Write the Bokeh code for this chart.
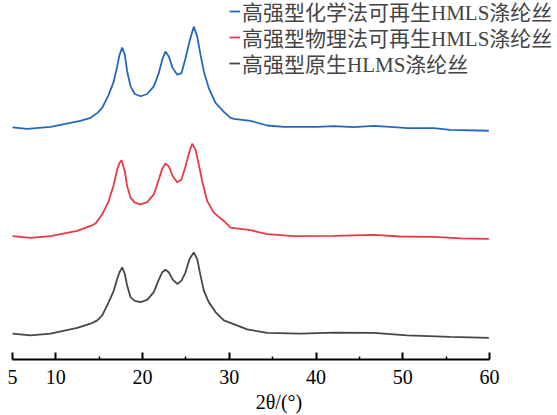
from bokeh.plotting import figure
from bokeh.models import Range1d, FixedTicker, Legend, LegendItem
from bokeh.embed import file_html
from bokeh.resources import INLINE

# ---- data (2theta in degrees, intensity in a.u. with vertical offsets) ----
chem_x = [5.0, 6.7, 9.4, 12.8, 14.0, 14.8, 15.34, 16.10, 16.68, 17.07, 17.34, 17.65, 17.95, 18.22,
          18.61, 19.10, 19.76, 20.53, 21.29, 21.87, 22.26, 22.64, 23.02, 23.48, 23.99, 24.49,
          24.95, 25.41, 25.90, 26.30, 26.68, 27.06, 27.63, 28.41, 29.37, 30.14, 30.52, 32.44,
          34.37, 36.28, 40.13, 42.05, 44.35, 46.66, 48.97, 50.51, 53.58, 55.5, 59.92]
chem_y = [227.5, 226, 228, 234, 237, 242, 247, 260.3, 273.7, 288.7, 300.3, 307.7, 300.3, 283.7,
          268.7, 261, 258.7, 261, 268.7, 282, 295.3, 303.7, 298.7, 287, 280.3, 282,
          297, 313.7, 328.7, 318.7, 300.3, 283.7, 267, 252, 243, 237, 236, 234,
          229.3, 228, 228, 228.7, 227.7, 229, 227.7, 226.7, 226.7, 225, 224]

phys_x = [5.0, 7.08, 9.38, 12.46, 14.0, 14.57, 15.34, 16.10, 16.68, 17.07, 17.34, 17.57, 17.95,
          18.22, 18.61, 19.10, 19.76, 20.53, 21.29, 21.87, 22.26, 22.64, 23.02, 23.48, 23.99,
          24.49, 24.95, 25.41, 25.72, 26.10, 26.48, 26.87, 27.45, 28.21, 29.37, 30.14, 32.44,
          34.37, 37.44, 42.05, 46.66, 49.74, 53.58, 56.65, 59.92]
phys_y = [118, 116.3, 118, 123.3, 128.3, 130.7, 140, 153.3, 170, 185, 191.7, 194.3, 183.3,
          168.3, 156.7, 151.7, 150, 152.3, 160, 175, 185.7, 191, 188.3, 178.3, 172.3,
          175, 188.3, 203.3, 211, 205, 190, 173.3, 153.3, 141.7, 133.3, 126.7, 124,
          120, 118, 118.3, 119.3, 117.7, 117.3, 115.7, 115.3]

orig_x = [5.0, 7.08, 9.38, 12.46, 14.0, 14.77, 15.34, 16.10, 16.68, 17.07, 17.34, 17.65, 17.95,
          18.22, 18.61, 19.10, 19.76, 20.53, 21.29, 21.87, 22.26, 22.64, 23.02, 23.48, 23.99,
          24.49, 24.95, 25.41, 25.90, 26.30, 26.68, 27.06, 27.63, 28.41, 29.37, 32.06, 34.37,
          38.21, 42.05, 46.66, 50.51, 55.5, 59.92]
orig_y = [20, 18.3, 20, 25.7, 30, 33.3, 38.3, 51.7, 63.3, 75, 81.7, 86.7, 80,
          68.3, 56.7, 53, 51.7, 54, 61.7, 74.3, 81.7, 84.3, 81.7, 74.3, 70,
          73.3, 81.7, 95, 101.7, 95, 78.3, 63.3, 51.7, 41.7, 33.3, 24.3, 20.7,
          20, 21, 20.7, 18.3, 16.7, 15.7]

series_names = ["高强型化学法可再生HMLS涤纶丝", "高强型物理法可再生HMLS涤纶丝", "高强型原生HLMS涤纶丝"]
series_colors = ["#2467C0", "#E63A44", "#474747"]

major_ticks = [5, 10, 20, 30, 40, 50, 60]
minor_ticks = [15, 25, 35, 45, 55]

SERIF = "Liberation Serif, Noto Sans CJK SC"

p = figure(width=557, height=415, output_backend="svg", toolbar_location=None,
           x_range=Range1d(3.616, 67.84), y_range=Range1d(-6, 355),
           min_border_left=0, min_border_right=0, min_border_top=0, min_border_bottom=54)
p.outline_line_color = None
p.grid.visible = False
p.yaxis.visible = False
p.background_fill_color = "white"
p.border_fill_color = "white"

r1 = p.line(chem_x, chem_y, line_color=series_colors[0], line_width=1.8)
r2 = p.line(phys_x, phys_y, line_color=series_colors[1], line_width=1.8)
r3 = p.line(orig_x, orig_y, line_color=series_colors[2], line_width=1.8)

ax = p.xaxis[0]
ax.bounds = (5, 60)
ax.ticker = FixedTicker(ticks=major_ticks, minor_ticks=minor_ticks)
ax.axis_line_width = 2
ax.axis_line_color = "black"
ax.major_tick_in = 7
ax.major_tick_out = 0
ax.minor_tick_in = 3
ax.minor_tick_out = 0
ax.major_tick_line_width = 2
ax.minor_tick_line_width = 1.5
ax.major_label_text_font = SERIF
ax.major_label_text_font_size = "20px"
ax.major_label_text_color = "black"
ax.major_label_standoff = 10
ax.axis_label = "2θ/(°)"
ax.axis_label_text_font = SERIF
ax.axis_label_text_font_style = "normal"
ax.axis_label_text_font_size = "20px"
ax.axis_label_text_color = "black"
ax.axis_label_standoff = 4

# one single-row legend per series, stacked at the top right
for name, rend, ypos in zip(series_names, [r1, r2, r3], [333, 307, 281]):
    lg = Legend(items=[LegendItem(label=name, renderers=[rend])], location=(229, ypos))
    lg.label_text_font = SERIF
    lg.label_text_font_size = "21px"
    lg.label_height = 20
    lg.glyph_height = 20
    lg.glyph_width = 11
    lg.label_standoff = 2
    lg.spacing = 0
    lg.padding = 0
    lg.margin = 0
    lg.border_line_color = None
    lg.background_fill_alpha = 0
    p.add_layout(lg)

open("out.html", "w").write(file_html(p, INLINE))
